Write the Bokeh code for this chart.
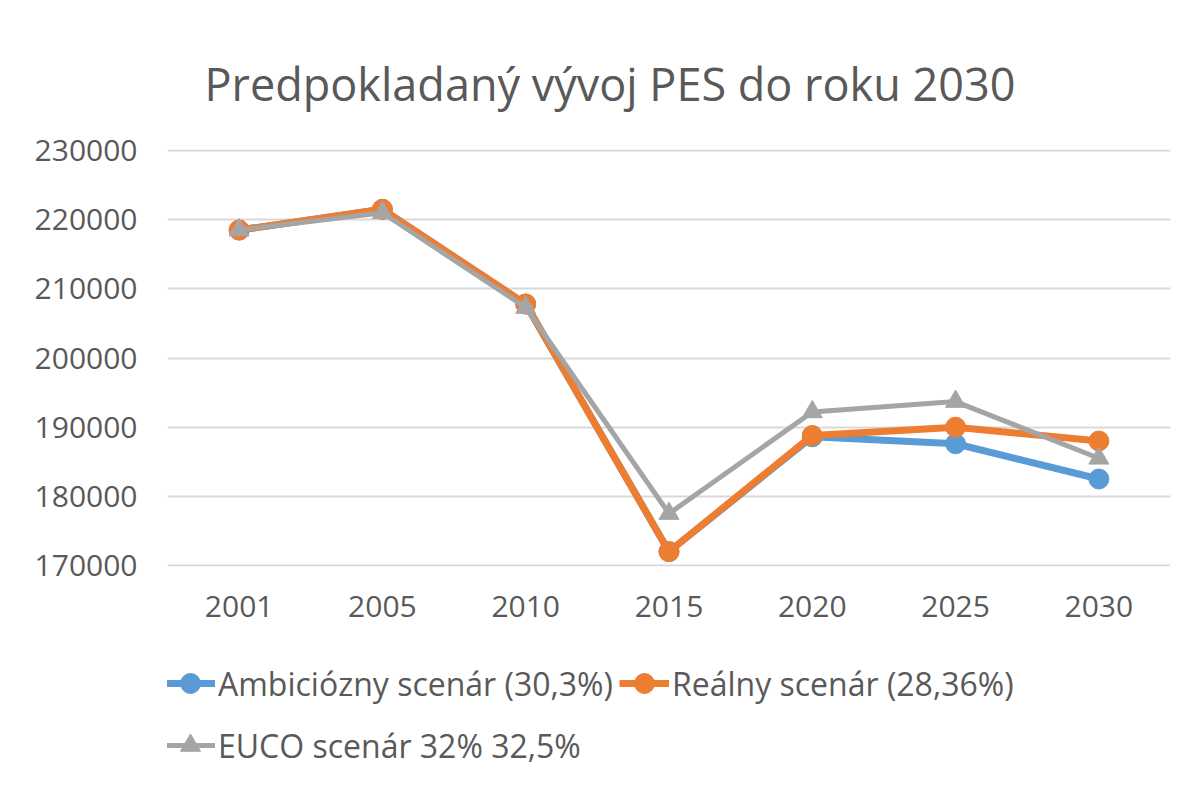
from bokeh.plotting import figure
from bokeh.models import Range1d, FixedTicker, NumeralTickFormatter, Legend, LegendItem
from bokeh.layouts import column
from bokeh.embed import file_html
from bokeh.resources import INLINE

years = ["2001", "2005", "2010", "2015", "2020", "2025", "2030"]
ambiciozny = [218500, 221500, 207800, 172000, 188600, 187600, 182500]
realny = [218500, 221500, 207800, 172000, 188800, 190000, 188000]
euco = [218500, 221000, 207300, 177500, 192200, 193700, 185500]
y_ticks = [170000, 180000, 190000, 200000, 210000, 220000, 230000]
series_names = ["Ambiciózny scenár (30,3%)", "Reálny scenár (28,36%)", "EUCO scenár 32% 32,5%"]

FONT = "Open Sans"
TXT = "#595959"
blue = "#5B9BD5"
orange = "#ED7D31"
gray = "#A5A5A5"

W, H = 1190, 640
p = figure(x_range=years, y_range=Range1d(169850, 230150), width=W, height=H,
           output_backend="svg", toolbar_location=None,
           min_border_left=167, min_border_right=W - 167 - 1003,
           min_border_top=149, min_border_bottom=H - 149 - 417)
p.x_range.range_padding = 0
p.outline_line_color = None
p.background_fill_color = "white"
p.border_fill_color = "white"

p.title.text = "Predpokladaný vývoj PES do roku 2030"
p.title.text_font = FONT
p.title.text_font_size = "45px"
p.title.text_font_style = "normal"
p.title.text_color = TXT
p.title.align = "left"
p.title.offset = 37
p.title.standoff = 72

p.xgrid.grid_line_color = None
p.ygrid.grid_line_color = "#D9D9D9"
p.ygrid.grid_line_width = 2

p.yaxis.ticker = FixedTicker(ticks=y_ticks)
p.yaxis.formatter = NumeralTickFormatter(format="0")
for ax in (p.xaxis[0], p.yaxis[0]):
    ax.axis_line_color = None
    ax.major_tick_line_color = None
    ax.minor_tick_line_color = None
    ax.major_tick_out = 0
    ax.major_tick_in = 0
    ax.major_label_text_font = FONT
    ax.major_label_text_font_size = "30px"
    ax.major_label_text_color = TXT
p.yaxis.major_label_standoff = 30
p.xaxis.major_label_standoff = 29

styles = [
    dict(color=blue, width=7, marker="circle"),
    dict(color=orange, width=7, marker="circle"),
    dict(color=gray, width=5, marker="triangle"),
]
all_series = [ambiciozny, realny, euco]
for vals, st in zip(all_series, styles):
    p.line(years, vals, line_color=st["color"], line_width=st["width"], line_join="round")
    p.scatter(years, vals, marker=st["marker"], size=20, fill_color=st["color"], line_color=st["color"])

# legend panel (separate figure below the chart; its series lie outside its visible range)
p2 = figure(width=W, height=140, x_range=years, y_range=Range1d(0, 1),
            x_axis_type=None, y_axis_type=None, output_backend="svg", toolbar_location=None,
            min_border_left=0, min_border_right=0, min_border_top=0, min_border_bottom=0)
p2.outline_line_color = None
p2.xgrid.grid_line_color = None
p2.ygrid.grid_line_color = None
items = []
for name, vals, st in zip(series_names, all_series, styles):
    lr = p2.line(years, vals, line_color=st["color"], line_width=st["width"])
    mr = p2.scatter(years, vals, marker=st["marker"], size=20, fill_color=st["color"], line_color=st["color"])
    items.append(LegendItem(label=name, renderers=[lr, mr]))

legend = Legend(items=items, orientation="horizontal", nrows=2, location=(-2, 7))
legend.border_line_color = None
legend.background_fill_alpha = 0
legend.padding = 0
legend.margin = 0
legend.spacing = 6
legend.glyph_width = 50
legend.glyph_height = 56
legend.label_height = 56
legend.label_standoff = 3
legend.label_text_font = FONT
legend.label_text_font_size = "32px"
legend.label_text_color = TXT
p2.add_layout(legend, "center")

layout = column(p, p2, spacing=0)
open("out.html", "w").write(file_html(layout, INLINE))
